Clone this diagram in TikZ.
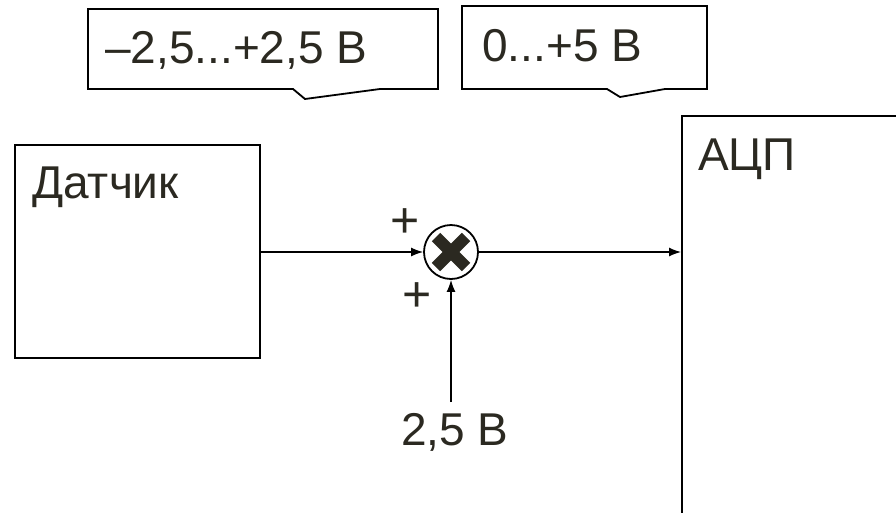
\documentclass[tikz,border=0pt]{standalone}
\usepackage{fontspec}
\setmainfont{Liberation Sans}
\usetikzlibrary{arrows.meta}
\definecolor{textc}{RGB}{43,41,33}
\begin{document}
\begin{tikzpicture}[x=1pt,y=-1pt,
  lbl/.style={anchor=base west,inner sep=0pt,text=textc,font=\fontsize{46}{50}\selectfont},
  plus/.style={inner sep=0pt,text=textc,font=\fontsize{50}{54}\selectfont},
  boxline/.style={draw=black,line width=1.8pt},
  conn/.style={draw=black,line width=1.3pt,-{Latex[length=12pt,width=9pt]}},
  plainconn/.style={draw=black,line width=1.3pt}]
\useasboundingbox (0,0) rectangle (896,512);
\clip (0,0) rectangle (896,512);
\fill[white] (0,0) rectangle (896,512);
% callouts
\draw[boxline,line join=miter] (88,9) -- (438,9) -- (438,89) -- (380,89) -- (305,99) -- (293,89) -- (88,89) -- cycle;
\node[lbl] (c1) at (105,63) {–2,5...+2,5 В};
\draw[boxline,line join=miter] (462,6) -- (707,6) -- (707,89) -- (665,89) -- (620,97) -- (607,89) -- (462,89) -- cycle;
\node[lbl] (c2) at (482,61) {0...+5 В};
% sensor
\node[boxline,rectangle,anchor=north west,minimum width=245,minimum height=213,inner sep=0pt] (dat) at (14,144) {};
\node[lbl] (datl) at (32,198) {Датчик};
% ADC
\node[boxline,rectangle,anchor=north west,minimum width=260,minimum height=420,inner sep=0pt] (adc) at (681,115) {};
\node[lbl] (adcl) at (698,170) {АЦП};
% summer
\node[circle,draw=black,line width=1.8pt,minimum size=54,inner sep=0pt] (sum) at (451,252) {};
\draw[textc,line width=12pt] ([shift={(-15,-15)}]sum.center) -- ([shift={(15,15)}]sum.center);
\draw[textc,line width=12pt] ([shift={(-15,15)}]sum.center) -- ([shift={(15,-15)}]sum.center);
\node[plus] (p1) at (405,223) {+};
\node[plus] (p2) at (417,297) {+};
% connectors
\coordinate (adcin) at (adc.west |- sum.east);
\draw[conn] (dat.east |- sum.west) -- (sum.west);
\draw[conn] (sum.east) -- (adcin);
\coordinate (ref) at (451,402);
\draw[conn] (ref) -- (sum.south);
\node[lbl,anchor=base] (refl) at (455,445) {2,5 В};
\end{tikzpicture}
\end{document}
